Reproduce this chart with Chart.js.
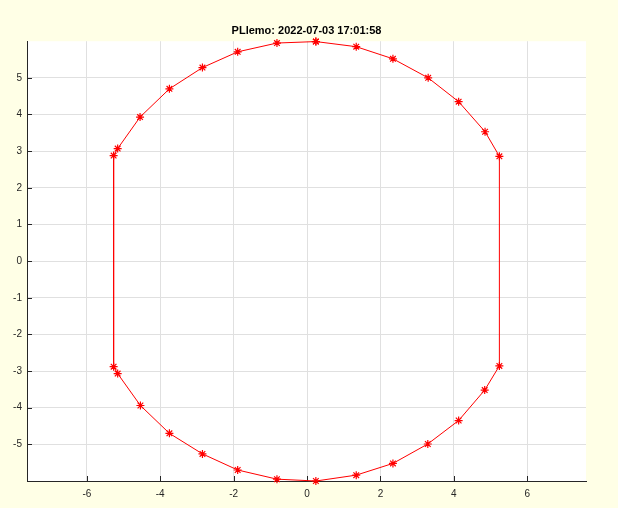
<!DOCTYPE html>
<html>
<head>
<meta charset="utf-8">
<script src="https://cdn.jsdelivr.net/npm/chart.js@4/dist/chart.umd.min.js"></script>
<style>
  html, body { margin: 0; padding: 0; background: #ffffe6; }
  canvas { display: block; }
</style>
</head>
<body>
<canvas id="myChart" width="618" height="508"></canvas>
<script>
//--------------------------------Data--------------------------------
var titleText = 'PLlemo: 2022-07-03 17:01:58';

// front points, walked round the loop from the top
var frontX = [0.24, -0.82, -1.89, -2.85, -3.75, -4.55, -5.16, -5.27,
              -5.27, -5.16, -4.54, -3.75, -2.85, -1.89, -0.82, 0.24,
              1.34, 2.34, 3.29, 4.13, 4.84, 5.24,
              5.24, 4.85, 4.13, 3.30, 2.34, 1.34];
var frontY = [5.99, 5.95, 5.71, 5.28, 4.70, 3.93, 3.07, 2.88,
              -2.88, -3.07, -3.94, -4.70, -5.26, -5.70, -5.95, -6.00,
              -5.84, -5.52, -4.99, -4.35, -3.52, -2.86,
              2.86, 3.53, 4.35, 5.00, 5.52, 5.85];

var xTicks = [-6, -4, -2, 0, 2, 4, 6];
var yTicks = [-5, -4, -3, -2, -1, 0, 1, 2, 3, 4, 5];
//---------------------------------------------------------------

var figColor = '#ffffe6';
var axColor = '#262626';
var fontFam = "'Liberation Sans', Arial, Helvetica, sans-serif";

var pts = [];
for (var i = 0; i < frontX.length; i++) {
    pts.push({ x: frontX[i], y: frontY[i] });
}
pts.push({ x: frontX[0], y: frontY[0] }); // close the loop

//--------------------------------Plugins--------------------------
var figBg = {
    id: 'figBg',
    beforeDraw: function (chart) {
        var c = chart.ctx, a = chart.chartArea;
        c.save();
        c.fillStyle = figColor;
        c.fillRect(0, 0, chart.width, chart.height);
        c.fillStyle = '#ffffff';
        c.fillRect(a.left, a.top, a.right - a.left, a.bottom - a.top);
        c.restore();
    }
};

// matlab style ticks, pointing into the axes
var innerTicks = {
    id: 'innerTicks',
    beforeDatasetsDraw: function (chart) {
        var c = chart.ctx, a = chart.chartArea;
        var sx = chart.scales.x, sy = chart.scales.y;
        c.save();
        c.strokeStyle = axColor;
        c.lineWidth = 1;
        c.beginPath();
        sx.ticks.forEach(function (t) {
            var px = Math.round(sx.getPixelForValue(t.value)) + 0.5;
            c.moveTo(px, a.bottom);
            c.lineTo(px, a.bottom - 5);
        });
        sy.ticks.forEach(function (t) {
            var py = Math.round(sy.getPixelForValue(t.value)) + 0.5;
            c.moveTo(a.left, py);
            c.lineTo(a.left + 5, py);
        });
        c.stroke();
        c.restore();
    }
};
//---------------------------------------------------------------

var myChart = new Chart(document.getElementById('myChart'), {
    type: 'scatter',
    data: {
        datasets: [{
            data: pts,
            showLine: true,
            borderColor: '#ff0000',
            borderWidth: 1,
            tension: 0,
            pointStyle: 'star',
            pointRadius: 4,
            pointBorderColor: '#ff0000',
            pointBackgroundColor: '#ff0000',
            pointBorderWidth: 1.2,
            clip: 8
        }]
    },
    options: {
        responsive: false,
        animation: false,
        layout: { padding: { left: 0, right: 32, top: 0, bottom: 0 } },
        plugins: {
            legend: { display: false },
            tooltip: { enabled: false },
            title: {
                display: true,
                text: titleText,
                color: '#000000',
                fullSize: false,
                font: { family: fontFam, size: 11, weight: 'bold' },
                padding: { top: 24, bottom: 4 }
            }
        },
        scales: {
            x: {
                type: 'linear',
                position: 'bottom',
                min: -7.63,
                max: 7.6,
                afterBuildTicks: function (s) { s.ticks = xTicks.map(function (v) { return { value: v }; }); },
                afterFit: function (s) { s.height = 27; },
                ticks: {
                    color: axColor,
                    padding: 7,
                    maxRotation: 0,
                    font: { family: fontFam, size: 10 }
                },
                grid: { color: '#e0e0e0', drawTicks: false },
                border: { display: true, color: axColor, width: 1 }
            },
            y: {
                type: 'linear',
                min: -6,
                max: 6,
                afterBuildTicks: function (s) { s.ticks = yTicks.map(function (v) { return { value: v }; }); },
                afterFit: function (s) { s.width = 27; },
                ticks: {
                    color: axColor,
                    padding: 5,
                    font: { family: fontFam, size: 10 }
                },
                grid: { color: '#e0e0e0', drawTicks: false },
                border: { display: true, color: axColor, width: 1 }
            }
        }
    },
    plugins: [figBg, innerTicks]
});
</script>
</body>
</html>
